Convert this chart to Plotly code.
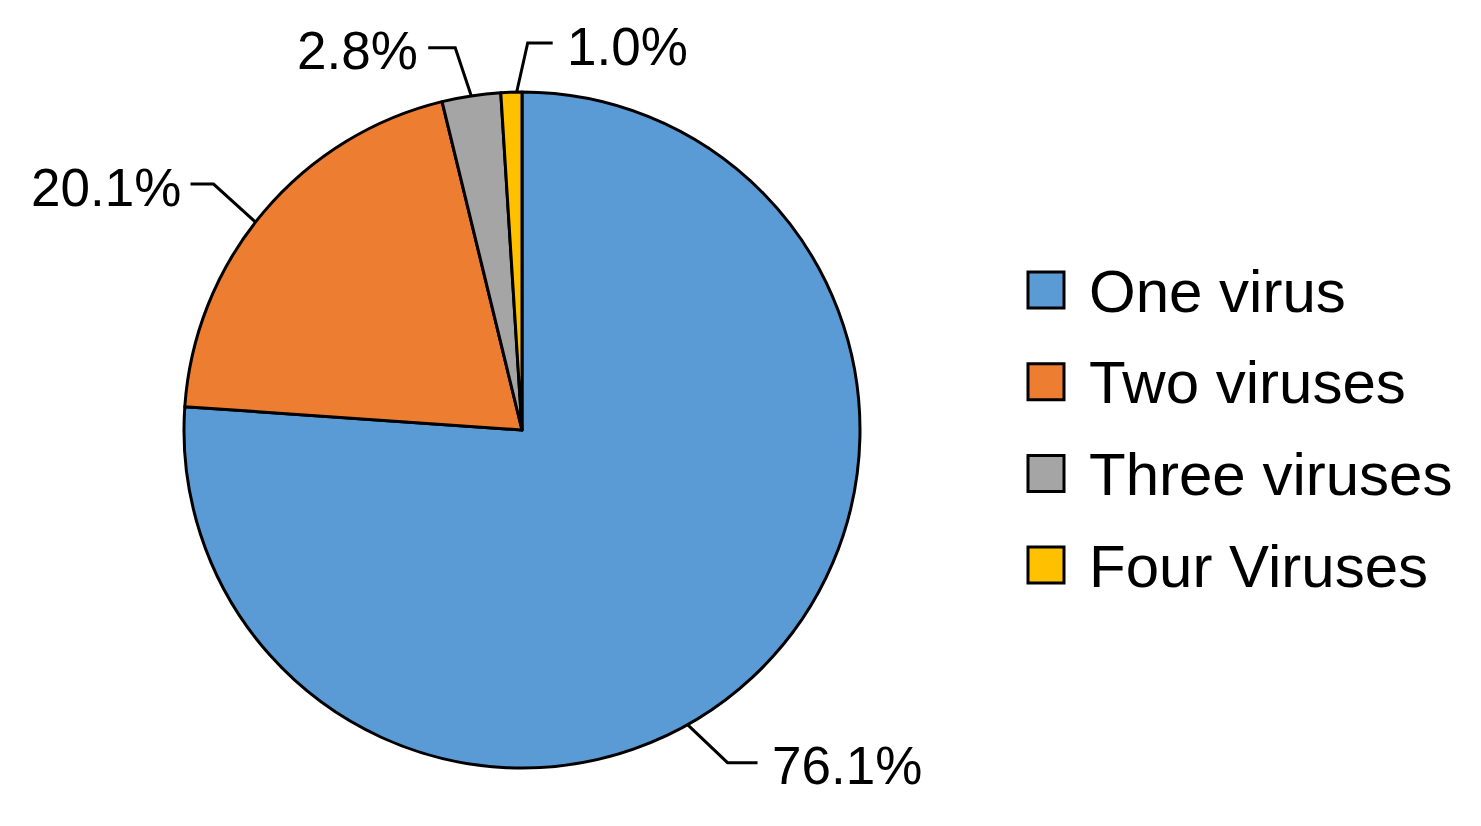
import math
import plotly.graph_objects as go

# data
labels = ["One virus", "Two viruses", "Three viruses", "Four Viruses"]
values = [76.1, 20.1, 2.8, 1.0]
pct_text = ["76.1%", "20.1%", "2.8%", "1.0%"]
colors = ["#5B9BD5", "#ED7D31", "#A5A5A5", "#FFC000"]

# layout (pixels of the page; the body has an 8px margin)
PAGE_W, PAGE_H, OFF = 1481, 826, 8
W, H = PAGE_W - 2 * OFF, PAGE_H - 2 * OFF
CX, CY, R = 522, 430, 338
FONT = "Liberation Sans, Arial, sans-serif"

# where along each slice the leader line touches the edge
anchor_frac = [0.55, 0.47, 0.5, 0.75]
# elbow offset from edge point, then horizontal run
elbow = [(40, 38), (-42, -38), (-16, -48), (11, -49)]
run = [30, -23, -27, 25]


def px(x):
    return (x - OFF) / W


def py(y):
    return 1 - (y - OFF) / H


fig = go.Figure()
fig.add_trace(go.Pie(
    labels=labels,
    values=values,
    sort=False,
    direction="clockwise",
    rotation=0,
    textinfo="none",
    marker=dict(colors=colors, line=dict(color="black", width=3)),
    domain=dict(x=[px(CX - R), px(CX + R)], y=[py(CY + R), py(CY - R)]),
    showlegend=False,
))

shapes = []
annotations = []
total = sum(values)
start = 0.0
for i, v in enumerate(values):
    ang = (start + v * anchor_frac[i]) / total * 2 * math.pi
    start += v
    ex = CX + R * math.sin(ang)
    ey = CY - R * math.cos(ang)
    bx, by = ex + elbow[i][0], ey + elbow[i][1]
    tx = bx + run[i]
    shapes.append(dict(
        type="path", xref="paper", yref="paper",
        path=f"M {px(ex)},{py(ey)} L {px(bx)},{py(by)} L {px(tx)},{py(by)}",
        line=dict(color="black", width=3),
    ))
    annotations.append(dict(
        x=px(tx + (12 if run[i] > 0 else -8)), y=py(by + 3),
        xref="paper", yref="paper",
        text=pct_text[i], showarrow=False,
        xanchor="left" if run[i] > 0 else "right", yanchor="middle",
        font=dict(family=FONT, size=53, color="black"),
    ))

# legend drawn by hand so the swatches can be big
LEG_X, LEG_Y0, LEG_DY, SW = 1028, 290, 91.7, 36
for i, lab in enumerate(labels):
    yc = LEG_Y0 + i * LEG_DY
    shapes.append(dict(
        type="rect", xref="paper", yref="paper",
        x0=px(LEG_X), x1=px(LEG_X + SW),
        y0=py(yc + SW / 2), y1=py(yc - SW / 2),
        fillcolor=colors[i], line=dict(color="black", width=3),
    ))
    annotations.append(dict(
        x=px(LEG_X + SW + 23), y=py(yc + 1),
        xref="paper", yref="paper",
        text=lab, showarrow=False,
        xanchor="left", yanchor="middle",
        font=dict(family=FONT, size=60, color="black"),
    ))

fig.update_layout(
    width=W, height=H,
    margin=dict(l=0, r=0, t=0, b=0),
    paper_bgcolor="white",
    plot_bgcolor="white",
    shapes=shapes,
    annotations=annotations,
)

fig.write_html("out.html")
